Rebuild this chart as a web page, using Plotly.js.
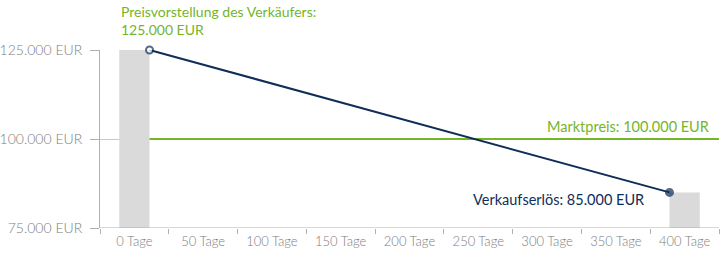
<!DOCTYPE html>
<html>
<head>
<meta charset="utf-8">
<script src="https://cdn.plot.ly/plotly-3.0.1.min.js"></script>
<style>html,body{margin:0;padding:0;background:#fff;}#chart{width:725px;height:258px;}</style>
</head>
<body>
<div id="chart"></div>
<script>
// Data
var days = [0, 50, 100, 150, 200, 250, 300, 350, 400];
var dayLabels = ["0 Tage","50 Tage","100 Tage","150 Tage","200 Tage","250 Tage","300 Tage","350 Tage","400 Tage"];
var barDays = [0, 400];
var barValues = [125000, 85000];
var askingPrice = 125000;
var marketPrice = 100000;
var salePrice = 85000;
var yTicks = [75000, 100000, 125000];

function fmt(v){ return String(v).replace(/\B(?=(\d{3})+(?!\d))/g, "."); }
var yTickText = yTicks.map(function(v){ return fmt(v) + " EUR"; });

var green = "#74b52a", navy = "#0f2d57", grayText = "#7d7d7d";
var barW = 22;
var step = days[1] - days[0];
var xMin = days[0] - step/2, xMax = days[days.length-1] + step/2;
var bounds = days.map(function(d){ return d - step/2; }).concat([xMax]);
var FONT = "Lato, 'Open Sans', sans-serif";
var W = 300;

var traces = [
  {type:"bar", x: barDays, y: barValues, width: barW, marker:{color:"#d9dad9"}, hoverinfo:"skip"},
  {type:"scatter", mode:"lines", x:[barDays[0] + barW/2, xMax], y:[marketPrice, marketPrice],
   line:{color: green, width: 2}, hoverinfo:"skip"},
  {type:"scatter", mode:"lines+markers", x:[barDays[0] + barW/2, barDays[1] - barW/2], y:[askingPrice, salePrice],
   line:{color: navy, width: 2}, cliponaxis: false,
   marker:{size:[7,7], color:["#ffffff", navy], line:{color: navy, width: 2}}, hoverinfo:"skip"}
];

var layout = {
  width: 725, height: 258,
  margin: {l: 100, r: 6, t: 50, b: 30},
  paper_bgcolor: "#fff", plot_bgcolor: "#fff",
  showlegend: false,
  font: {family: FONT, color: grayText, size: 13, weight: W},
  xaxis: {
    range: [xMin, xMax], tickvals: days, ticktext: dayLabels, ticks: "",
    showgrid: false, zeroline: false, showline: false,
    tickfont: {size: 13, color: grayText, family: FONT, weight: W},
    ticklabelstandoff: 4,
    minor: {tickvals: bounds, ticks: "outside", ticklen: 5, tickcolor: "#b0b0b0", tickwidth: 1, showgrid: false},
    fixedrange: true
  },
  yaxis: {
    range: [yTicks[0], yTicks[yTicks.length-1]], tickvals: yTicks, ticktext: yTickText,
    ticks: "outside", ticklen: 9, tickcolor: "#b0b0b0", tickwidth: 1,
    showgrid: true, gridcolor: "#c8c8c8", gridwidth: 1,
    showline: true, linecolor: "#b0b0b0", linewidth: 1, zeroline: false,
    tickfont: {size: 14, color: grayText, family: FONT, weight: W},
    ticklabelstandoff: 5,
    fixedrange: true
  },
  shapes: [
    {type:"line", xref:"paper", yref:"y", x0:0, x1:1, y0:yTicks[0], y1:yTicks[0], line:{color:"#b0b0b0", width:1}, layer:"above"}
  ],
  annotations: [
    {xref:"x", yref:"paper", x: barDays[0] - barW/2, y: 1.166, xanchor:"left", yanchor:"middle", align:"left",
     text: "Preisvorstellung des Verkäufers:<br>" + fmt(askingPrice) + " EUR", showarrow:false,
     font:{size:14, color: green, family: FONT, weight: 400}},
    {xref:"x", yref:"y", x: 419, y: marketPrice, yshift: 13, xanchor:"right", yanchor:"middle",
     text: "Marktpreis: " + fmt(marketPrice) + " EUR", showarrow:false, font:{size:14.5, color: green, family: FONT, weight: 400}},
    {xref:"x", yref:"y", x: 372, y: salePrice, yshift: -7, xanchor:"right", yanchor:"middle",
     text: "Verkaufserlös: " + fmt(salePrice) + " EUR", showarrow:false, font:{size:14.5, color: navy, family: FONT, weight: 400}}
  ]
};

Plotly.newPlot("chart", traces, layout, {displayModeBar: false, staticPlot: true});
</script>
</body>
</html>
